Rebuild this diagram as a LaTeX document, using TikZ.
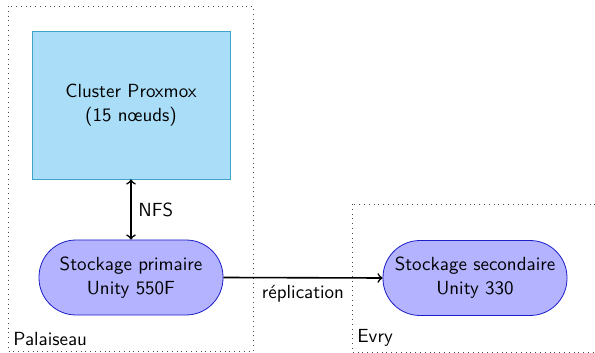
\documentclass[tikz,border=0pt]{standalone}
\definecolor{clfill}{RGB}{170,222,248}
\definecolor{cldraw}{RGB}{60,165,200}
\definecolor{stfill}{RGB}{179,179,255}
\definecolor{stdraw}{RGB}{30,30,200}
\newcommand{\diagfont}{\sffamily\fontsize{9.5}{12}\selectfont}
\tikzset{
  site/.style={draw=black!70, dotted},
  sitelabel/.style={anchor=south west, inner sep=2.5pt, font=\diagfont},
  cluster/.style={rectangle, draw=cldraw, fill=clfill, minimum width=99pt, minimum height=74pt, align=center, font=\diagfont},
  storage/.style={rectangle, rounded corners=18.5pt, draw=stdraw, fill=stfill, minimum width=92pt, minimum height=37.5pt, inner sep=1pt, align=center, font=\diagfont},
  link/.style={thick},
  linklabel/.style={font=\diagfont}
}
\begin{document}
\begin{tikzpicture}[x=0.5pt, y=-0.5pt]
\useasboundingbox (0,0) rectangle (595,353);
\draw[site] (8,6) rectangle (253,351);
\draw[site] (352,204) rectangle (640,352);
\node[sitelabel] (pal) at (8,351) {Palaiseau};
\node[sitelabel] (evry) at (352,352) {Evry};
\node[cluster] (cl) at (131,105) {Cluster Proxmox\\(15 n\oe uds)};
\node[storage] (prim) at (131,277.5) {Stockage primaire\\Unity 550F};
\node[storage] (sec) at (475,278) {Stockage secondaire\\Unity 330};
\draw[link, <->] (cl.south) -- node[linklabel, right] {NFS} (prim.north);
\draw[link, ->] (prim.east) -- node[linklabel, below] {réplication} (sec.west);
\end{tikzpicture}
\end{document}
